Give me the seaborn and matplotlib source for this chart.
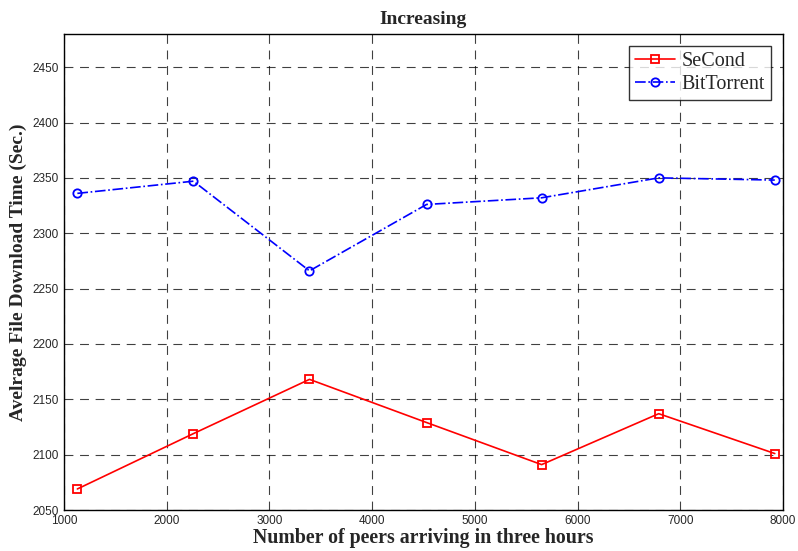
import matplotlib
matplotlib.use("Agg")
import matplotlib.pyplot as plt
import seaborn as sns
import pandas as pd

# --------------------------------------------------------------
# Datos
# --------------------------------------------------------------
peers = [1130, 2260, 3390, 4530, 5650, 6790, 7920]
second_time = [2069, 2119, 2168, 2129, 2091, 2137, 2101]
bittorrent_time = [2336, 2347, 2266, 2326, 2332, 2350, 2348]
x_ticks = [1000, 2000, 3000, 4000, 5000, 6000, 7000, 8000]
y_ticks = [2050, 2100, 2150, 2200, 2250, 2300, 2350, 2400, 2450]

df = pd.DataFrame({"peers": peers, "SeCond": second_time, "BitTorrent": bittorrent_time})

sns.set_style("white")
plt.rcParams["font.family"] = ["Liberation Sans", "DejaVu Sans"]

fig = plt.figure(figsize=(7.98, 5.51), dpi=100)
ax = fig.add_axes([0.0802, 0.0744, 0.9010, 0.8640])

sns.lineplot(data=df, x="peers", y="SeCond", ax=ax, color="red", linewidth=1.2,
             marker="s", markersize=6, markerfacecolor="none", markeredgecolor="red",
             markeredgewidth=1.3, label="SeCond")
sns.lineplot(data=df, x="peers", y="BitTorrent", ax=ax, color="blue", linewidth=1.2,
             linestyle="-.", marker="o", markersize=6, markerfacecolor="none",
             markeredgecolor="blue", markeredgewidth=1.3, label="BitTorrent")

ax.set_xlim(1000, 8000)
ax.set_ylim(2050, 2480)
ax.set_xticks(x_ticks)
ax.set_yticks(y_ticks)
ax.tick_params(axis="both", labelsize=8.5, direction="in", length=4, color="black")
ax.grid(True, color="black", linestyle=(0, (8, 6)), linewidth=0.8, alpha=0.75)
for s in ax.spines.values():
    s.set_color("black")
    s.set_linewidth(1.0)

serif = ["Liberation Serif", "DejaVu Serif"]
ax.set_title("Increasing", fontsize=14, fontweight="bold", family=serif, pad=7)
ax.set_xlabel("Number of peers arriving in three hours", fontsize=14.3, fontweight="bold",
              family=serif, labelpad=1)
ax.set_ylabel("Avelrage File Download Time (Sec.)", fontsize=14, fontweight="bold",
              family=serif, labelpad=4)

leg = ax.legend(loc="upper right", prop={"family": serif, "size": 14.5}, frameon=True,
                fancybox=False, edgecolor="black", handlelength=2.0, borderpad=0.3,
                labelspacing=0.2, handletextpad=0.3, borderaxespad=0.6)
leg.get_frame().set_linewidth(1.0)

fig.savefig("out.png", dpi=100)
